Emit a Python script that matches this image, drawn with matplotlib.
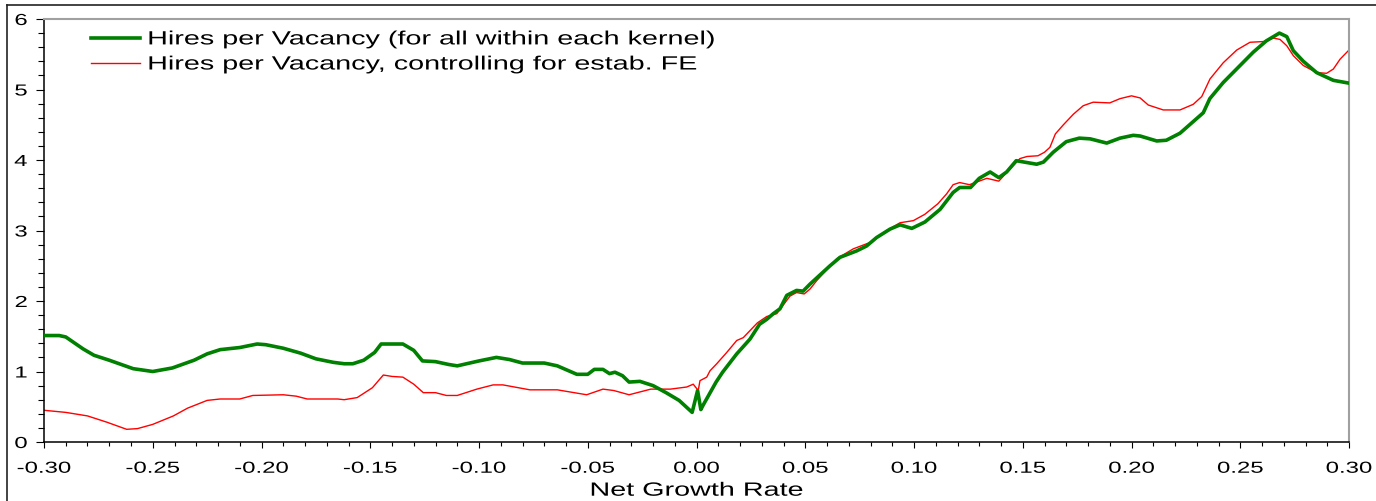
import numpy as np
import matplotlib
matplotlib.use("Agg")
import matplotlib.pyplot as plt
from matplotlib.lines import Line2D
from matplotlib.patheffects import AbstractPathEffect
from matplotlib.ticker import MultipleLocator
from matplotlib.transforms import Affine2D

# hires per vacancy, all establishments in each kernel
growth_all = [-0.300, -0.293, -0.290, -0.282, -0.277, -0.270, -0.259, -0.250, -0.241, -0.231,
              -0.225, -0.219, -0.210, -0.202, -0.198, -0.190, -0.182, -0.175, -0.167, -0.162,
              -0.158, -0.153, -0.148, -0.145, -0.135, -0.130, -0.126, -0.120, -0.114, -0.110,
              -0.100, -0.092, -0.086, -0.080, -0.070, -0.064, -0.055, -0.050, -0.047, -0.043,
              -0.040, -0.0375, -0.034, -0.031, -0.026, -0.020, -0.014, -0.008, -0.002, 0.0005,
              0.002, 0.003, 0.009, 0.012, 0.0185, 0.0246, 0.029, 0.0323, 0.0353, 0.0384,
              0.0415, 0.046, 0.049, 0.0522, 0.0614, 0.066, 0.0736, 0.0782, 0.0828, 0.089,
              0.0936, 0.099, 0.105, 0.112, 0.118, 0.121, 0.126, 0.130, 0.135, 0.139,
              0.1426, 0.147, 0.1564, 0.1595, 0.164, 0.170, 0.176, 0.181, 0.1886, 0.1947,
              0.2008, 0.204, 0.2116, 0.216, 0.2223, 0.233, 0.236, 0.2422, 0.2499, 0.256,
              0.262, 0.268, 0.2714, 0.2744, 0.279, 0.2851, 0.2928, 0.300]
hpv_all = [1.51, 1.51, 1.49, 1.32, 1.23, 1.16, 1.04, 1.00, 1.05, 1.16,
           1.25, 1.31, 1.34, 1.39, 1.38, 1.33, 1.26, 1.18, 1.13, 1.11,
           1.11, 1.16, 1.27, 1.39, 1.39, 1.30, 1.15, 1.14, 1.10, 1.08,
           1.15, 1.20, 1.17, 1.12, 1.12, 1.08, 0.96, 0.96, 1.03, 1.03,
           0.97, 0.99, 0.94, 0.85, 0.86, 0.80, 0.70, 0.59, 0.42, 0.73,
           0.46, 0.52, 0.85, 0.99, 1.25, 1.46, 1.67, 1.74, 1.82, 1.89,
           2.08, 2.15, 2.14, 2.24, 2.50, 2.62, 2.71, 2.78, 2.90, 3.02,
           3.08, 3.03, 3.12, 3.30, 3.54, 3.61, 3.61, 3.74, 3.83, 3.75,
           3.83, 3.99, 3.94, 3.97, 4.11, 4.26, 4.31, 4.30, 4.24, 4.31,
           4.35, 4.34, 4.27, 4.28, 4.38, 4.67, 4.87, 5.10, 5.34, 5.53,
           5.69, 5.80, 5.75, 5.55, 5.40, 5.24, 5.13, 5.09]

# hires per vacancy with establishment fixed effects
growth_fe = [-0.300, -0.290, -0.280, -0.271, -0.262, -0.257, -0.250, -0.2405, -0.234, -0.225,
             -0.219, -0.210, -0.204, -0.190, -0.184, -0.179, -0.165, -0.162, -0.156, -0.149,
             -0.144, -0.140, -0.135, -0.130, -0.1256, -0.120, -0.115, -0.110, -0.101, -0.0935,
             -0.089, -0.0766, -0.064, -0.0505, -0.043, -0.038, -0.031, -0.021, -0.012, -0.0045,
             -0.0015, 0.0008, 0.0016, 0.0047, 0.0062, 0.0093, 0.0139, 0.0185, 0.0215, 0.028,
             0.0323, 0.0369, 0.043, 0.046, 0.0495, 0.0522, 0.0553, 0.0645, 0.0721, 0.0798,
             0.0874, 0.0936, 0.0997, 0.105, 0.111, 0.115, 0.118, 0.121, 0.1255, 0.1335,
             0.139, 0.144, 0.1487, 0.152, 0.157, 0.160, 0.1625, 0.165, 0.1687, 0.1733,
             0.1778, 0.1824, 0.190, 0.1947, 0.200, 0.204, 0.2077, 0.2146, 0.2223, 0.2284,
             0.2323, 0.2361, 0.2422, 0.2484, 0.2545, 0.2606, 0.2652, 0.2683, 0.2714, 0.2744,
             0.279, 0.2851, 0.2897, 0.2928, 0.2959, 0.300]
hpv_fe = [0.45, 0.42, 0.37, 0.28, 0.18, 0.19, 0.25, 0.37, 0.48, 0.59,
          0.61, 0.61, 0.66, 0.67, 0.65, 0.61, 0.61, 0.60, 0.63, 0.77,
          0.95, 0.93, 0.92, 0.82, 0.70, 0.70, 0.66, 0.66, 0.75, 0.81,
          0.81, 0.74, 0.74, 0.67, 0.75, 0.73, 0.67, 0.75, 0.75, 0.78,
          0.82, 0.73, 0.87, 0.92, 1.01, 1.11, 1.27, 1.44, 1.48, 1.69,
          1.78, 1.82, 2.07, 2.12, 2.10, 2.17, 2.29, 2.60, 2.74, 2.83,
          3.00, 3.11, 3.14, 3.23, 3.38, 3.52, 3.65, 3.68, 3.65, 3.74,
          3.70, 3.87, 4.02, 4.05, 4.06, 4.11, 4.18, 4.37, 4.50, 4.65,
          4.77, 4.82, 4.81, 4.87, 4.91, 4.88, 4.78, 4.71, 4.71, 4.79,
          4.90, 5.15, 5.38, 5.56, 5.67, 5.68, 5.73, 5.71, 5.62, 5.48,
          5.34, 5.24, 5.23, 5.29, 5.43, 5.56]

x_ticks = [-0.30, -0.25, -0.20, -0.15, -0.10, -0.05, 0.00, 0.05, 0.10, 0.15, 0.20, 0.25, 0.30]
x_ticklabels = ["-0.30", "-0.25", "-0.20", "-0.15", "-0.10", "-0.05", "0.00",
                "0.05", "0.10", "0.15", "0.20", "0.25", "0.30"]
y_ticks = [0, 1, 2, 3, 4, 5, 6]
labels = ["Hires per Vacancy (for all within each kernel)",
          "Hires per Vacancy, controlling for estab. FE"]


class WideText(AbstractPathEffect):
    # widen text glyphs horizontally about one edge of the string
    def __init__(self, sx=1.5, anchor="center"):
        super().__init__()
        self.sx = sx
        self.anchor = anchor

    def draw_path(self, renderer, gc, tpath, affine, rgbFace=None):
        ext = tpath.get_extents()
        x0 = {"left": ext.x0, "center": (ext.x0 + ext.x1) / 2, "right": ext.x1}[self.anchor]
        widen = Affine2D().translate(-x0, 0).scale(self.sx, 1).translate(x0, 0)
        renderer.draw_path(gc, tpath, widen + affine, rgbFace)


plt.rcParams["font.family"] = "Liberation Sans"

W, H = 1376, 502
fig = plt.figure(figsize=(W / 100, H / 100), dpi=100)
ax = fig.add_axes([44 / W, 1 - 443 / H, 1305 / W, 423 / H])

ax.plot(growth_fe, hpv_fe, color="#ff0000", lw=1.0, zorder=2, label=labels[1])
ax.plot(growth_all, hpv_all, color="#008000", lw=2.6, zorder=3, label=labels[0])

ax.set_xlim(-0.30, 0.30)
ax.set_ylim(0, 6)
ax.set_xticks(x_ticks)
ax.set_xticklabels(x_ticklabels)
ax.set_yticks(y_ticks)
ax.xaxis.set_minor_locator(MultipleLocator(0.01))
ax.yaxis.set_minor_locator(MultipleLocator(0.2))
ax.tick_params(axis="both", which="both", direction="out", width=0.8, color="black", labelsize=11.5)
ax.tick_params(axis="x", which="major", length=4.5, pad=9)
ax.tick_params(axis="x", which="minor", length=3)
ax.tick_params(axis="y", which="major", length=6, pad=6)
ax.tick_params(axis="y", which="minor", length=4.3)

for side in ["left", "bottom"]:
    ax.spines[side].set_color("black")
    ax.spines[side].set_linewidth(1.1)
for side in ["top", "right"]:
    ax.spines[side].set_color("#a0a0a0")
    ax.spines[side].set_linewidth(1.5)

ax.set_xlabel("Net Growth Rate", fontsize=13.8, labelpad=5)

handles, names = ax.get_legend_handles_labels()
leg = ax.legend(handles[::-1], names[::-1], loc="upper left",
                bbox_to_anchor=(91 / W, 1 - 32 / H), bbox_transform=fig.transFigure,
                frameon=False, fontsize=13.8, borderpad=0, borderaxespad=0,
                handlelength=2.55, handletextpad=0.42, labelspacing=0.4)

for t in ax.get_xticklabels():
    t.set_path_effects([WideText(1.5, "center")])
for t in ax.get_yticklabels():
    t.set_path_effects([WideText(1.5, "right")])
ax.xaxis.label.set_path_effects([WideText(1.5, "center")])
for t in leg.get_texts():
    t.set_path_effects([WideText(1.5, "left")])

# outer frame edges
fig.add_artist(Line2D([7 / W, 7 / W], [0, 1 - 6 / H], transform=fig.transFigure, color="#222222", lw=1.2))
fig.add_artist(Line2D([7 / W, 1], [1 - 6 / H, 1 - 6 / H], transform=fig.transFigure, color="#222222", lw=1.2))

fig.savefig("out.png", dpi=100)
